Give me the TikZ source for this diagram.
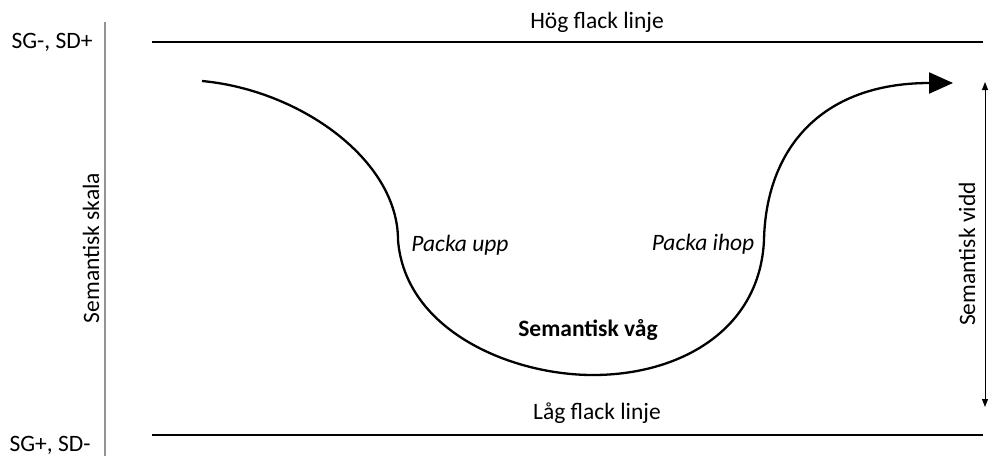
\documentclass[tikz,border=0pt]{standalone}
\usepackage{fontspec}
\setmainfont{Carlito}
\usetikzlibrary{arrows.meta}
\begin{document}
\begin{tikzpicture}[x=1pt,y=-1pt,
  lbl/.style={inner sep=0pt,font=\fontsize{23.5}{28}\selectfont},
  flat/.style={line width=2pt,black},
  wave/.style={line width=2.3pt,black,-{Triangle[length=24pt,width=21pt]}},
  axis/.style={line width=1.2pt,gray!85}]
\useasboundingbox (0,0) rectangle (992,456);
% scale axis
\coordinate (axtop) at (105,22);
\coordinate (axbot) at (105,456);
\draw[axis] (axtop) -- (axbot);
\node[lbl] (sgtop) at (52,42) {SG-, SD+};
\node[lbl] (sgbot) at (50,445) {SG+, SD-};
\node[lbl,rotate=90] (skala) at (91,248) {Semantisk skala};
% flat lines
\coordinate (hl) at (152,42);
\coordinate (hr) at (983,42);
\coordinate (ll) at (152,435);
\coordinate (lr) at (983,435);
\draw[flat] (hl) -- (hr);
\draw[flat] (ll) -- (lr);
\node[lbl] (hog) at (597,22) {Hög flack linje};
\node[lbl] (lag) at (597,413) {Låg flack linje};
% semantic range
\coordinate (vt) at (985,82);
\coordinate (vb) at (985,407);
\draw[line width=1pt,{Triangle[length=8pt,width=6pt]}-{Triangle[length=8pt,width=6pt]}] (vt) -- (vb);
\node[lbl,rotate=90] (vidd) at (967,254) {Semantisk vidd};
% wave
\coordinate (w0) at (202,81);
\coordinate (w1) at (398,240);
\coordinate (w2) at (593,375);
\coordinate (w3) at (764,240);
\coordinate (w4) at (953,83);
\draw[wave] (w0) .. controls (300,90) and (398,160) .. (w1)
  .. controls (405,330) and (510,375) .. (w2)
  .. controls (680,375) and (760,330) .. (w3)
  .. controls (766,150) and (820,83) .. (w4);
\node[lbl,font=\fontsize{23.5}{28}\selectfont\itshape] (upp) at (460,245) {Packa upp};
\node[lbl,font=\fontsize{23.5}{28}\selectfont\itshape] (ihop) at (703,244) {Packa ihop};
\node[lbl,font=\fontsize{23.5}{28}\selectfont\bfseries] (vag) at (588,330) {Semantisk våg};
\end{tikzpicture}
\end{document}
